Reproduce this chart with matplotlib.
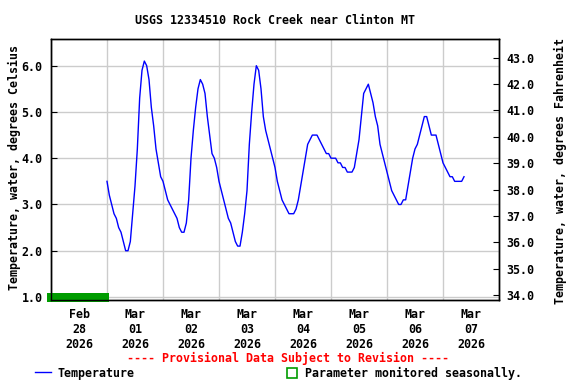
import matplotlib
matplotlib.use('Agg')
import matplotlib.pyplot as plt
import matplotlib.dates as mdates
import pandas as pd
from matplotlib.patches import Rectangle
from matplotlib.lines import Line2D
from matplotlib.ticker import FormatStrFormatter
import matplotlib.transforms as mtransforms

# ---- data (hourly water temperature, deg C, starting 2026-03-01 00:00) ----
series_start = '2026-03-01 00:00'
temp_mar01 = [3.5, 3.2, 3.0, 2.8, 2.7, 2.5, 2.4, 2.2, 2.0, 2.0, 2.2, 2.8,
              3.4, 4.2, 5.3, 5.9, 6.1, 6.0, 5.7, 5.1, 4.7, 4.2, 3.9, 3.6]
temp_mar02 = [3.5, 3.3, 3.1, 3.0, 2.9, 2.8, 2.7, 2.5, 2.4, 2.4, 2.6, 3.1,
              4.0, 4.6, 5.1, 5.5, 5.7, 5.6, 5.4, 4.9, 4.5, 4.1, 4.0, 3.8]
temp_mar03 = [3.5, 3.3, 3.1, 2.9, 2.7, 2.6, 2.4, 2.2, 2.1, 2.1, 2.4, 2.8,
              3.3, 4.3, 5.0, 5.6, 6.0, 5.9, 5.5, 4.9, 4.6, 4.4, 4.2, 4.0]
temp_mar04 = [3.8, 3.5, 3.3, 3.1, 3.0, 2.9, 2.8, 2.8, 2.8, 2.9, 3.1, 3.4,
              3.7, 4.0, 4.3, 4.4, 4.5, 4.5, 4.5, 4.4, 4.3, 4.2, 4.1, 4.1]
temp_mar05 = [4.0, 4.0, 4.0, 3.9, 3.9, 3.8, 3.8, 3.7, 3.7, 3.7, 3.8, 4.1,
              4.4, 4.9, 5.4, 5.5, 5.6, 5.4, 5.2, 4.9, 4.7, 4.3, 4.1, 3.9]
temp_mar06 = [3.7, 3.5, 3.3, 3.2, 3.1, 3.0, 3.0, 3.1, 3.1, 3.4, 3.7, 4.0,
              4.2, 4.3, 4.5, 4.7, 4.9, 4.9, 4.7, 4.5, 4.5, 4.5, 4.3, 4.1]
temp_mar07 = [3.9, 3.8, 3.7, 3.6, 3.6, 3.5, 3.5, 3.5, 3.5, 3.6]

temps = temp_mar01 + temp_mar02 + temp_mar03 + temp_mar04 + temp_mar05 + temp_mar06 + temp_mar07
times = pd.date_range(series_start, periods=len(temps), freq='h')

x_start, x_end = '2026-02-28 00:00', '2026-03-08 00:00'
season_gap = ('2026-02-27 22:15', '2026-03-01 01:00')
c_ticks = [1, 2, 3, 4, 5, 6]
f_ticks = [34, 35, 36, 37, 38, 39, 40, 41, 42, 43]

title = 'USGS 12334510 Rock Creek near Clinton MT'
ylabel_left = 'Temperature, water, degrees Celsius'
ylabel_right = 'Temperature, water, degrees Fahrenheit'
provisional = '---- Provisional Data Subject to Revision ----'
legend_temp = 'Temperature'
legend_season = 'Parameter monitored seasonally.'

# ---- style ----
plt.rcParams['font.family'] = ['DejaVu Sans Mono']
plt.rcParams['font.weight'] = 'bold'
FS = 8.4
W, H = 576, 384

fig = plt.figure(figsize=(W / 100, H / 100), dpi=100)
ax = fig.add_axes([51 / W, 1 - 300 / H, 448 / W, 261 / H])

ax.plot(times, temps, color='#0000ff', lw=1.0, zorder=3)

ax.set_xlim(pd.Timestamp(x_start), pd.Timestamp(x_end))
ax.set_ylim(0.935, 6.577)
ax.set_yticks(c_ticks)
ax.yaxis.set_major_formatter(FormatStrFormatter('%.1f'))

ax.xaxis.set_major_locator(mdates.HourLocator(byhour=[12]))
ax.xaxis.set_major_formatter(mdates.DateFormatter('%b\n%d\n%Y'))
ax.xaxis.set_minor_locator(mdates.DayLocator())
ax.xaxis.grid(True, which='minor', color='#cccccc', lw=1.0)
ax.yaxis.grid(True, which='major', color='#cccccc', lw=1.0)
ax.set_axisbelow(True)

ax.tick_params(axis='x', which='both', length=0, pad=5.5, labelsize=FS)
ax.tick_params(axis='y', which='major', direction='in', length=4, pad=6, labelsize=FS)
for lab in ax.get_xticklabels():
    lab.set_linespacing(1.2)

for sp in ax.spines.values():
    sp.set_color('black')
    sp.set_linewidth(1.0)

ax2 = ax.twinx()
ax2.set_ylim(33.81, 43.71)
ax2.set_yticks(f_ticks)
ax2.yaxis.set_major_formatter(FormatStrFormatter('%.1f'))
ax2.tick_params(axis='y', direction='in', length=4, pad=5, labelsize=FS)
for sp in ax2.spines.values():
    sp.set_linewidth(1.0)

# seasonal (no data) bar
trans = mtransforms.blended_transform_factory(ax.transData, ax.transAxes)
x0 = mdates.date2num(pd.Timestamp(season_gap[0]))
x1 = mdates.date2num(pd.Timestamp(season_gap[1]))
ax.add_patch(Rectangle((x0, -0.006), x1 - x0, 0.033, transform=trans,
                       facecolor='#009c00', edgecolor='none', clip_on=False, zorder=5))

# texts
fig.text(275 / W, 1 - 20 / H, title, ha='center', va='center', fontsize=FS)
fig.text(14 / W, 1 - 168 / H, ylabel_left, rotation=90, ha='center', va='center', fontsize=FS)
fig.text(560 / W, 1 - 171 / H, ylabel_right, rotation=90, ha='center', va='center', fontsize=FS)
fig.text(288 / W, 1 - 358 / H, provisional, color='#ff0000', ha='center', va='center', fontsize=FS)

# legend
fig.add_artist(Line2D([35 / W, 51 / W], [1 - 372 / H, 1 - 372 / H], color='#0000ff', lw=1.0))
fig.text(57 / W, 1 - 373 / H, legend_temp, ha='left', va='center', fontsize=FS)
fig.add_artist(Rectangle((287 / W, 1 - 378 / H), 10 / W, 10 / H, transform=fig.transFigure,
                         facecolor='none', edgecolor='#009c00', lw=1.2))
fig.text(305 / W, 1 - 373 / H, legend_season, ha='left', va='center', fontsize=FS)

fig.savefig('out.png', dpi=100)
